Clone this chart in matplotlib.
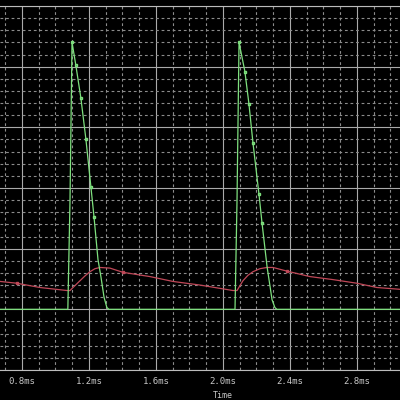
import matplotlib
matplotlib.use("Agg")
import matplotlib.pyplot as plt
from matplotlib.ticker import MultipleLocator

# time in ms, values in grid divisions
t_green = [0.669, 1.074, 1.087, 1.099, 1.122, 1.152, 1.182, 1.212, 1.230, 1.254,
           1.272, 1.290, 1.307, 1.319, 2.072, 2.084, 2.096, 2.131, 2.155, 2.179,
           2.215, 2.233, 2.263, 2.293, 2.310, 2.322, 3.057]
v_green = [0, 0, 1.8, 4.40, 4.02, 3.48, 2.80, 2.01, 1.53, 0.82,
           0.53, 0.20, 0.03, 0, 0, 1.8, 4.40, 3.92, 3.39, 2.75,
           1.90, 1.43, 0.71, 0.16, 0.03, 0, 0]
green_marks = [3, 4, 5, 6, 7, 8, 16, 17, 18, 19, 20, 21]

t_red = [0.669, 0.770, 0.907, 1.069, 1.087, 1.116, 1.146, 1.176, 1.206, 1.236,
         1.266, 1.325, 1.403, 1.564, 1.701, 1.863, 2.060, 2.084, 2.119, 2.149,
         2.179, 2.221, 2.263, 2.299, 2.382, 2.519, 2.657, 2.800, 2.919, 3.057]
v_red = [0.46, 0.43, 0.36, 0.31, 0.31, 0.39, 0.47, 0.55, 0.62, 0.67,
         0.69, 0.68, 0.61, 0.54, 0.46, 0.40, 0.31, 0.31, 0.47, 0.56,
         0.62, 0.67, 0.69, 0.69, 0.63, 0.54, 0.49, 0.43, 0.36, 0.33]
red_marks = [1, 12, 24]

tick_vals = [0.8, 1.2, 1.6, 2.0, 2.4, 2.8]
tick_labels = ["0.8ms", "1.2ms", "1.6ms", "2.0ms", "2.4ms", "2.8ms"]

fig = plt.figure(figsize=(4, 4), dpi=100, facecolor="black")
ax = fig.add_axes([0, 0.075, 1, 0.91])
ax.set_facecolor("black")

ax.set_xlim(0.669, 3.057)
ax.set_ylim(-1, 5)
ax.xaxis.set_minor_locator(MultipleLocator(0.1))
ax.yaxis.set_major_locator(MultipleLocator(1))
ax.yaxis.set_minor_locator(MultipleLocator(0.2))
ax.set_xticks(tick_vals)
ax.set_xticklabels(tick_labels)

ax.grid(which="major", color="#aaaaaa", lw=0.8, ls="-")
ax.grid(which="minor", color="#8c8c8c", lw=0.8, ls=(0, (2.5, 2.5)))
ax.set_axisbelow(True)

ax.tick_params(axis="x", which="both", direction="in", length=0, colors="#c8c8c8",
               labelsize=6.5, pad=5)
ax.tick_params(axis="y", which="both", left=False, labelleft=False)
for lab in ax.get_xticklabels():
    lab.set_family("DejaVu Sans Mono")

for side in ["left", "right"]:
    ax.spines[side].set_visible(False)
ax.spines["bottom"].set_color("#bcbcbc")
ax.spines["top"].set_color("#bcbcbc")

ax.plot(t_red, v_red, color="#c04858", lw=0.9, marker="s", ms=2, mfc="none",
        markevery=red_marks)
ax.plot(t_green, v_green, color="#7ee07e", lw=0.9, marker="s", ms=2, mfc="none",
        markevery=green_marks)

fig.text(223 / 400, 0.012, "Time", color="#c8c8c8", fontsize=6,
         family="DejaVu Sans Mono", ha="center", va="center")

fig.savefig("out.png", facecolor="black")
